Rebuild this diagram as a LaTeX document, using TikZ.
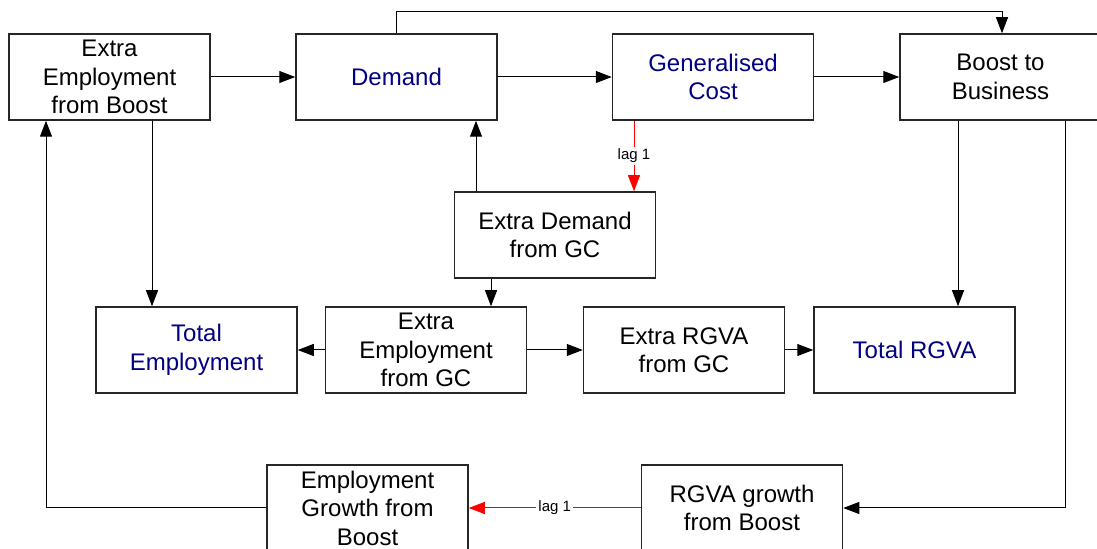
\documentclass[tikz,border=0pt]{standalone}
\usepackage{fontspec}
\setmainfont{Liberation Sans}
\usetikzlibrary{arrows.meta}
\definecolor{modelblue}{RGB}{0,0,128}

\begin{document}
\begin{tikzpicture}[x=0.5pt, y=-0.5pt,
    box/.style={draw=black!85, line width=0.75pt, minimum width=100.5pt, minimum height=43pt, inner sep=0pt, align=center, font=\fontsize{12}{14.25}\selectfont},
    output/.style={box, text=modelblue},
    link/.style={line width=0.5pt, -{Triangle[length=8pt, width=6pt]}},
    lag/.style={link, red},
    lagtext/.style={fill=white, text=black, inner sep=1pt, font=\fontsize{7.5}{9}\selectfont}]

    \useasboundingbox (0,0) rectangle (1097,549);

    \node[box] (eeb) at (109.5,77) {Extra\\Employment\\from Boost};
    \node[output] (dem) at (396.5,77) {Demand};
    \node[output] (gc) at (713,77) {Generalised\\Cost};
    \node[box] (btb) at (1000.5,77) {Boost to\\Business};
    \node[box] (exd) at (555,235) {Extra Demand\\from GC};
    \node[output] (totemp) at (196.5,350) {Total\\Employment};
    \node[box] (exegc) at (426,350) {Extra\\Employment\\from GC};
    \node[box] (exrgva) at (684,350) {Extra RGVA\\from GC};
    \node[output] (totrgva) at (914.5,350) {Total RGVA};
    \node[box] (empgr) at (367.5,508) {Employment\\Growth from\\Boost};
    \node[box] (rgvagr) at (742,508) {RGVA growth\\from Boost};

    \draw[link] (eeb.east) -- (dem.west);
    \draw[link] (dem.east) -- (gc.west);
    \draw[link] (gc.east) -- (btb.west);
    \draw[link] (dem.north) -- ++(0,-22) -| ([xshift=0.75pt]btb.north);
    \draw[link] ([xshift=-39.5pt]exd.north) -- ([xshift=-39.5pt]exd.north |- dem.south);
    \draw[lag] ([xshift=-39.5pt]gc.south) -- ([xshift=-39.5pt]gc.south |- exd.north) node[midway, lagtext]{lag 1};
    \draw[link] ([xshift=-32pt]exd.south) -- ([xshift=-32pt]exd.south |- exegc.north);
    \draw[link] (exegc.west) -- (totemp.east);
    \draw[link] (exegc.east) -- (exrgva.west);
    \draw[link] (exrgva.east) -- (totrgva.west);
    \draw[link] ([xshift=21.25pt]eeb.south) -- ([xshift=21.25pt]eeb.south |- totemp.north);
    \draw[link] ([xshift=-21.25pt]btb.south) -- ([xshift=-21.25pt]btb.south |- totrgva.north);
    \draw[link] ([xshift=32.25pt]btb.south) |- (rgvagr.east);
    \draw[lag] (rgvagr.west) -- (empgr.east) node[midway, lagtext]{lag 1};
    \draw[link] (empgr.west) -| ([xshift=-31.75pt]eeb.south);

\end{tikzpicture}
\end{document}
